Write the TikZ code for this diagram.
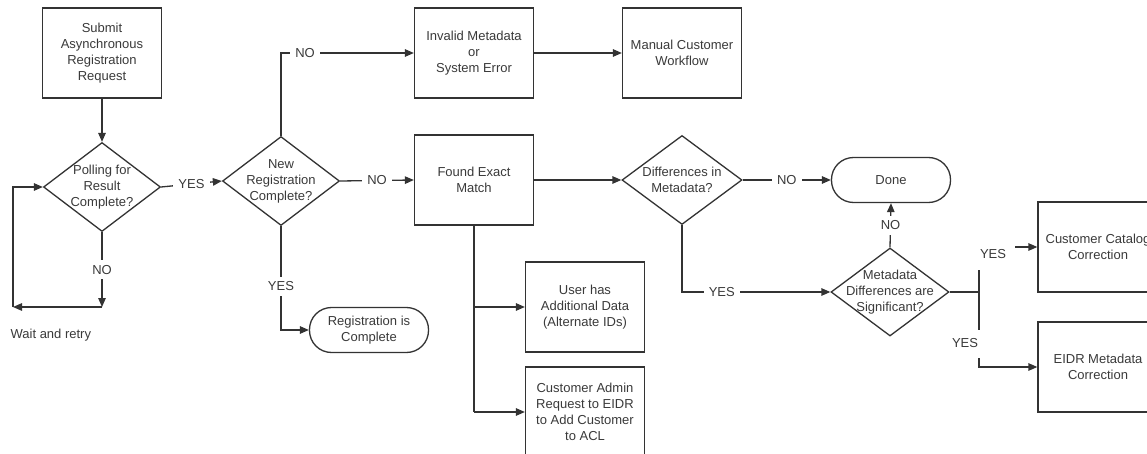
\documentclass[tikz,border=0pt]{standalone}
\usepackage{fontspec}
\setmainfont{Liberation Sans}
\usetikzlibrary{arrows.meta,shapes.geometric}
\newcommand\dfont{\fontsize{13}{16}\selectfont}
\definecolor{lc}{HTML}{333333}
\definecolor{tc}{HTML}{3A3A3A}
\begin{document}
\begin{tikzpicture}[x=1pt,y=-1pt, color=lc, line width=1.3pt,
  txt/.style={font=\dfont, text=tc, align=center, inner sep=0pt},
  box/.style={txt, draw=lc, rectangle, minimum width=119pt, minimum height=90pt},
  term/.style={txt, draw=lc, rectangle, rounded corners=22pt, minimum width=119pt, minimum height=45pt},
  dia/.style={draw=lc, diamond, inner sep=0pt, minimum width=117pt, minimum height=89pt},
  lbl/.style={txt, fill=white, inner xsep=5pt, inner ysep=5pt},
  arr/.style={-{Triangle[length=9pt,width=7.5pt]}}]
\useasboundingbox (0,0) rectangle (1147,454);
\clip (0,0) rectangle (1147,454);
\fill[white] (0,0) rectangle (1147,454);

% nodes
\node[box] (submit) at (102,53) {Submit\\Asynchronous\\Registration\\Request};
\node[dia] (poll) at (102,187) {};
\node[txt] (pollt) at (poll) {Polling for\\Result\\Complete?};
\node[dia] (newreg) at (281,181) {};
\node[txt] (newregt) at (newreg) {New\\Registration\\Complete?};
\node[box] (invalid) at (474,53) {Invalid Metadata\\or\\System Error};
\node[box] (manual) at (682,53) {Manual Customer\\Workflow};
\node[box] (found) at (474,180) {Found Exact\\Match};
\node[dia, minimum width=120pt] (diff) at (682,180) {};
\node[txt] (difft) at (diff) {Differences in\\Metadata?};
\node[term] (done) at (891,180) {Done};
\node[term] (regc) at (369,330) {Registration is\\Complete};
\node[box] (user) at (585,307) {User has\\Additional Data\\(Alternate IDs)};
\node[box] (admin) at (585,412) {Customer Admin\\Request to EIDR\\to Add Customer\\to ACL};
\node[dia, minimum width=118pt, minimum height=88pt] (sig) at (890,292) {};
\node[txt] (sigt) at (sig) {Metadata\\Differences are\\Significant?};
\node[box, minimum width=120pt] (cat) at (1098,247) {Customer Catalog\\Correction};
\node[box, minimum width=120pt] (eidr) at (1098,367) {EIDR Metadata\\Correction};
\node[txt, anchor=west] (wait) at (10,335) {Wait and retry};

% coordinates
\coordinate (p1) at (102,307);
\coordinate (p2) at (13,307);
\coordinate (fb) at (474,412);
\coordinate (fu) at (474,307);
\coordinate (j) at (979,292);
\coordinate (jt) at (979,270);
\coordinate (ct) at (1015,247);
\coordinate (jb) at (979,330);
\coordinate (eb) at (979,358);

% connectors
\draw[arr] (submit.south) -- (poll.north);
\draw[arr] (poll.east) -- node[lbl] (yes1) {YES} (newreg.west);
\draw[arr] (poll.south) -- node[lbl] (no1) {NO} (p1);
\draw[arr] (p1) -- (p2);
\draw[arr] (p2) |- (poll.west);
\draw[arr] (newreg.north) |- (invalid.west);
\node[lbl] (no2) at (305,53) {NO};
\draw[arr] (newreg.east) -- node[lbl] (no3) {NO} (found.west);
\draw[arr] (newreg.south) |- node[lbl, pos=0.29] (yes2) {YES} (regc.west);
\draw[arr] (invalid.east) -- (manual.west);
\draw[arr] (found.east) -- (diff.west);
\draw[arr] (diff.east) -- node[lbl] (no4) {NO} (done.west);
\draw[arr] (diff.south) |- node[lbl, pos=0.634] (yes3) {YES} (sig.west);
\draw[arr] (sig.north) -- node[lbl] (no5) {NO} (done.south);
\draw (found.south) -- (fb);
\draw[arr] (fu) -- (user.west);
\draw[arr] (fb) -- (admin.west);
\draw (sig.east) -- (j);
\draw (jt) -- (jb);
\node[txt] (yes4) at (993,254) {YES};
\draw[arr] (ct) -- (cat.west);
\node[txt] (yes5) at (965,343) {YES};
\draw[arr] (eb) |- (eidr.west);
\end{tikzpicture}
\end{document}
